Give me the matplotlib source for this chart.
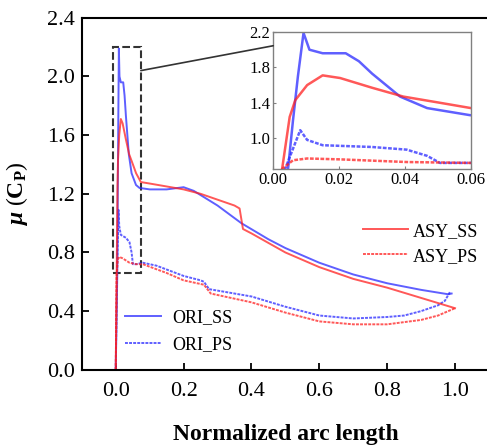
import matplotlib
matplotlib.use("Agg")
import matplotlib.pyplot as plt
from matplotlib.patches import Rectangle, ConnectionPatch

plt.rcParams['font.family'] = ['Liberation Serif', 'DejaVu Serif']
plt.rcParams['mathtext.fontset'] = 'custom'
plt.rcParams['mathtext.rm'] = 'Liberation Serif:bold'
plt.rcParams['mathtext.it'] = 'Liberation Serif:bold:italic'
plt.rcParams['mathtext.bf'] = 'Liberation Serif:bold'

# valores
ori_ss_x = [0, 0.0045, 0.006, 0.0075, 0.0092, 0.011, 0.015, 0.022, 0.026, 0.030, 0.0385, 0.0467, 0.0597,
            0.07, 0.1, 0.15, 0.2, 0.23, 0.3, 0.37, 0.45, 0.5, 0.6, 0.7, 0.8, 0.9, 0.98, 0.99]
ori_ss_y = [0, 0.65, 1.2, 1.7, 2.19, 2.0, 1.96, 1.96, 1.87, 1.73, 1.47, 1.34, 1.26,
            1.24, 1.23, 1.23, 1.245, 1.22, 1.12, 1.0, 0.89, 0.83, 0.73, 0.65, 0.59, 0.545, 0.515, 0.52]

ori_ps_x = [0, 0.0036, 0.0082, 0.0103, 0.015, 0.03, 0.0405, 0.0467, 0.0506, 0.06,
            0.08, 0.12, 0.2, 0.25, 0.26, 0.275, 0.3, 0.4, 0.5, 0.6, 0.7, 0.75, 0.8, 0.85, 0.9, 0.95, 0.97, 0.985]
ori_ps_y = [0, 0.65, 1.09, 0.98, 0.92, 0.90, 0.87, 0.80, 0.72, 0.72,
            0.73, 0.71, 0.64, 0.61, 0.60, 0.55, 0.54, 0.50, 0.43, 0.37, 0.35, 0.355, 0.36, 0.37, 0.40, 0.44, 0.47, 0.53]

asy_ss_x = [0, 0.0027, 0.005, 0.0067, 0.0103, 0.015, 0.0203, 0.03, 0.0395, 0.0506, 0.06,
            0.074, 0.1, 0.15, 0.2, 0.25, 0.3, 0.35, 0.365, 0.375, 0.4, 0.5, 0.6, 0.7, 0.8, 0.9, 0.95, 1.0]
asy_ss_y = [0, 0.65, 1.24, 1.43, 1.6, 1.71, 1.68, 1.57, 1.47, 1.40, 1.34,
            1.28, 1.27, 1.25, 1.23, 1.2, 1.16, 1.12, 1.10, 0.96, 0.93, 0.80, 0.70, 0.62, 0.56, 0.49, 0.455, 0.42]

asy_ps_x = [0, 0.0027, 0.006, 0.0103, 0.0203, 0.0405, 0.06,
            0.08, 0.15, 0.2, 0.26, 0.28, 0.3, 0.4, 0.5, 0.6, 0.7, 0.8, 0.9, 0.95, 0.98, 1.0]
asy_ps_y = [0, 0.65, 0.75, 0.77, 0.76, 0.73, 0.72,
            0.72, 0.66, 0.61, 0.58, 0.52, 0.51, 0.46, 0.39, 0.33, 0.31, 0.31, 0.34, 0.37, 0.40, 0.42]

azul = '#2a2aff'
rojo = '#ff2020'
punteado = (0, (1.5, 0.6))

fig = plt.figure(figsize=(4.87, 4.45), dpi=100)
ax = fig.add_axes([0.168, 0.169, 0.836, 0.791])

l1, = ax.plot(ori_ss_x, ori_ss_y, color=azul, lw=1.4, alpha=0.75, label='ORI_SS')
l2, = ax.plot(ori_ps_x, ori_ps_y, color=azul, lw=1.4, alpha=0.75, ls=punteado, label='ORI_PS')
l3, = ax.plot(asy_ss_x, asy_ss_y, color=rojo, lw=1.4, alpha=0.75, label='ASY_SS')
l4, = ax.plot(asy_ps_x, asy_ps_y, color=rojo, lw=1.4, alpha=0.75, ls=punteado, label='ASY_PS')

ax.set_xlim(-0.1, 1.1)
ax.set_ylim(0, 2.4)
ax.set_xticks([0.0, 0.2, 0.4, 0.6, 0.8, 1.0])
ax.set_yticks([0.0, 0.4, 0.8, 1.2, 1.6, 2.0, 2.4])
ax.xaxis.set_major_formatter(matplotlib.ticker.FormatStrFormatter('%.1f'))
ax.yaxis.set_major_formatter(matplotlib.ticker.FormatStrFormatter('%.1f'))
ax.tick_params(direction='in', length=5, width=1.3, labelsize=16, pad=5)
ax.tick_params(axis='x', pad=9)
for s in ax.spines.values():
    s.set_linewidth(1.5)

ax.set_xlabel('Normalized arc length', fontsize=17, fontweight='bold', labelpad=16)
ax.set_ylabel(r'$\mu$ ($\mathrm{C}_\mathrm{P}$)', fontsize=17, labelpad=12)

leg1 = ax.legend(handles=[l1, l2], loc='upper left', bbox_to_anchor=(0.106, 0.172),
                 frameon=False, fontsize=13, handlelength=2.0, handletextpad=0.6,
                 labelspacing=0.55, borderaxespad=0, borderpad=0)
ax.add_artist(leg1)
ax.legend(handles=[l3, l4], loc='upper left', bbox_to_anchor=(0.69, 0.418),
          frameon=False, fontsize=13, handlelength=2.5, handletextpad=0.3,
          labelspacing=0.45, borderaxespad=0, borderpad=0)

# recuadro de zoom
caja = Rectangle((-0.009, 0.66), 0.083, 1.54, fill=False, ls='--', lw=1.5, ec='#333333')
ax.add_patch(caja)

ins = fig.add_axes([0.561, 0.620, 0.406, 0.308])
ins.plot(ori_ss_x, ori_ss_y, color=azul, lw=1.8, alpha=0.75)
ins.plot(ori_ps_x, ori_ps_y, color=azul, lw=1.8, alpha=0.75, ls=punteado)
ins.plot(asy_ss_x, asy_ss_y, color=rojo, lw=1.8, alpha=0.75)
ins.plot(asy_ps_x, asy_ps_y, color=rojo, lw=1.8, alpha=0.75, ls=punteado)
ins.set_xlim(0, 0.06)
ins.set_ylim(0.65, 2.2)
ins.set_xticks([0.0, 0.02, 0.04, 0.06])
ins.set_yticks([1.0, 1.4, 1.8, 2.2])
ins.xaxis.set_major_formatter(matplotlib.ticker.FormatStrFormatter('%.2f'))
ins.yaxis.set_major_formatter(matplotlib.ticker.FormatStrFormatter('%.1f'))
ins.tick_params(direction='in', length=2, color='gray', labelsize=12, pad=2)
for s in ins.spines.values():
    s.set_color('gray')
    s.set_linewidth(1)

con = ConnectionPatch(xyA=(0.074, 2.04), coordsA=ax.transData,
                      xyB=(0.0, 0.9), coordsB=ins.transAxes,
                      color='#333333', lw=1.2)
fig.add_artist(con)

fig.savefig('out.png', dpi=100)
